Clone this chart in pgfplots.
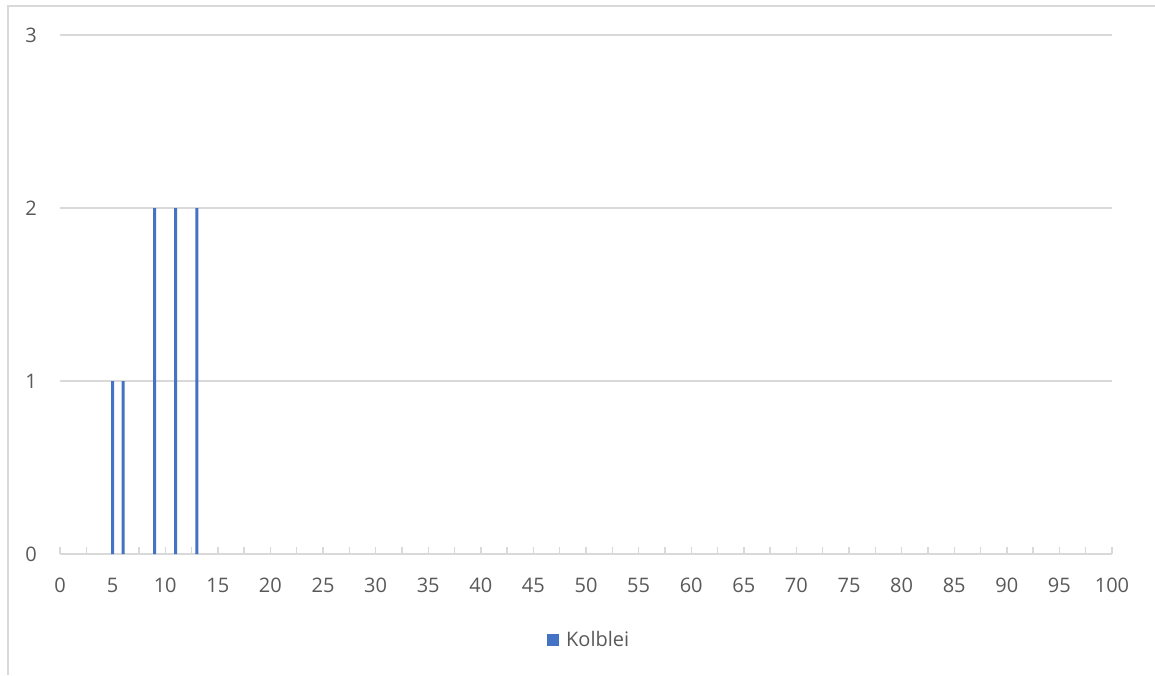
\documentclass[border=0pt]{standalone}
\usepackage{pgfplots}
\pgfplotsset{compat=1.18}
\usepackage{fontspec}
\setmainfont{Open Sans}
\definecolor{barblue}{HTML}{4472C4}
\definecolor{gridgray}{HTML}{D9D9D9}
\definecolor{txtgray}{HTML}{595959}
\begin{document}
\begin{tikzpicture}
\useasboundingbox (0,0) rectangle (577.5pt,337.5pt);
\draw[gridgray, line width=0.8pt] (4pt,0) -- (4pt,334.5pt) -- (577.5pt,334.5pt);
\begin{axis}[
  at={(30pt,60.5pt)}, anchor=origin,
  scale only axis, width=526pt, height=259.5pt,
  xmin=0, xmax=100, ymin=0, ymax=3,
  xtick={0,5,...,100}, minor xtick={2.5,7.5,...,97.5},
  ytick={0,1,2,3},
  tick align=inside,
  major tick length=3.5pt, minor tick length=3.5pt,
  xtick style={gridgray, line width=0.7pt},
  minor tick style={gridgray, line width=0.7pt},
  ytick style={draw=none},
  separate axis lines,
  axis x line*=bottom,
  axis y line*=left,
  y axis line style={draw=none},
  x axis line style={gridgray, line width=0.8pt, -},
  ymajorgrids, grid style={gridgray, line width=0.7pt},
  font=\fontsize{10}{12}\selectfont,
  tick label style={txtgray},
  /pgf/number format/assume math mode=true,
  xticklabel style={yshift=-8.5pt},
  yticklabel style={xshift=-8pt},
  legend style={at={(0.504,-0.1657)}, anchor=center, draw=none, fill=none,
    font=\fontsize{10}{12}\selectfont\color{txtgray}, inner sep=0pt,
    legend cell align=left},
  legend image code/.code={\fill[barblue] (0pt,-3pt) rectangle (6pt,3pt);},
]
\addplot[ybar, bar width=1.5pt, fill=barblue, draw=none] coordinates {
  (5,1) (6,1) (9,2) (11,2) (13,2)
};
\addlegendentry{\hspace{1.5pt}Kolblei}
\end{axis}
\end{tikzpicture}
\end{document}
